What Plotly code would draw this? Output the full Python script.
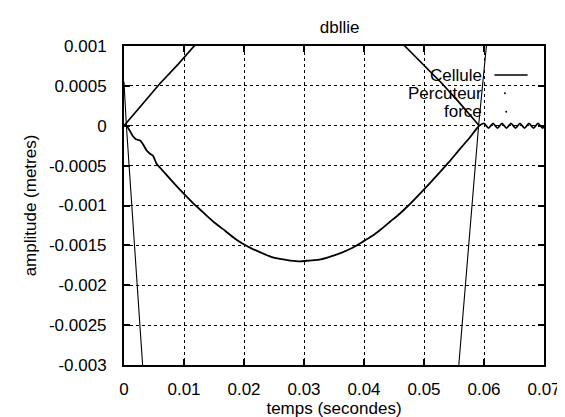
import plotly.graph_objects as go

# Cellule (solid line)
cellule_t = [0, 0.00037, 0.00092, 0.00146, 0.0020, 0.0027, 0.00324, 0.00378, 0.00433,
             0.00487, 0.0054, 0.00605, 0.0069, 0.0082, 0.0098, 0.0115, 0.0131, 0.0150,
             0.0169, 0.0184, 0.0198, 0.0213, 0.0228, 0.0244, 0.0260, 0.0277, 0.0293,
             0.0309, 0.0325, 0.0344, 0.0363, 0.0381, 0.0399, 0.0414, 0.0428, 0.0444,
             0.0460, 0.0474, 0.0487, 0.0506, 0.0522, 0.0541, 0.0560, 0.0576, 0.0592,
             0.0600, 0.06075, 0.0615, 0.06225, 0.0630, 0.06375, 0.0645, 0.06525,
             0.0660, 0.06675, 0.0675, 0.06825, 0.0690, 0.06975, 0.0700]
cellule_y = [0, 0, -0.000055, -0.000128, -0.000168, -0.000185, -0.000241, -0.000311, -0.000351,
             -0.00038, -0.000473, -0.00053, -0.0006, -0.00071, -0.00084, -0.00097, -0.00108, -0.00121,
             -0.00132, -0.00141, -0.00148, -0.00154, -0.00159, -0.00164, -0.00167, -0.00169, -0.0017,
             -0.00169, -0.00168, -0.00164, -0.00159, -0.00153, -0.00145, -0.00138, -0.0013, -0.0012,
             -0.0011, -0.001, -0.0009, -0.00075, -0.00062, -0.00046, -0.00029, -0.00015, 0.0,
             0.00003, -0.00003, 0.00003, -0.00003, 0.00003, -0.00003, 0.00003, -0.00003,
             0.00003, -0.00003, 0.00003, -0.00003, 0.00003, -0.00003, -0.00001]

# Percuteur
percuteur_t = [0, 0.003, 0.006, 0.009, 0.0117, 0.015, 0.02, 0.025, 0.03, 0.035, 0.04,
               0.0468, 0.05, 0.053, 0.056, 0.0592]
percuteur_y = [0, 0.00027, 0.00053, 0.00077, 0.001, 0.00122, 0.00148, 0.00164, 0.0017,
               0.00165, 0.00146, 0.001, 0.00076, 0.00053, 0.00028, 0]

# force
force_t = [0, 0.0004, 0.0031, 0.006, 0.012, 0.02, 0.03, 0.04, 0.048, 0.053, 0.0558,
           0.0591, 0.0604, 0.0625]
force_y = [0.00055, 0.0, -0.003, -0.0062, -0.0125, -0.018, -0.0205, -0.018, -0.0105,
           -0.0054, -0.003, 0.0, 0.001, 0.0028]

x_ticks = [0, 0.01, 0.02, 0.03, 0.04, 0.05, 0.06, 0.07]
x_labels = ["0", "0.01", "0.02", "0.03", "0.04", "0.05", "0.06", "0.07"]
y_ticks = [0.001, 0.0005, 0, -0.0005, -0.001, -0.0015, -0.002, -0.0025, -0.003]
y_labels = ["0.001", "0.0005", "0", "-0.0005", "-0.001", "-0.0015", "-0.002", "-0.0025", "-0.003"]

font = "Liberation Sans, Arial, Helvetica, sans-serif"

fig = go.Figure()
fig.add_trace(go.Scatter(x=force_t, y=force_y, mode="lines", name="force",
                         line=dict(color="black", width=1.1)))
fig.add_trace(go.Scatter(x=percuteur_t, y=percuteur_y, mode="lines", name="Percuteur",
                         line=dict(color="black", width=1.7)))
fig.add_trace(go.Scatter(x=cellule_t, y=cellule_y, mode="lines", name="Cellule",
                         line=dict(color="black", width=1.8, shape="spline", smoothing=0.6)))

# gnuplot-style key: text right-aligned, sample to its right
key = [("Cellule", 0.909), ("Percuteur", 0.852), ("force", 0.794)]
for label, ky in key:
    fig.add_annotation(x=0.856, y=ky, xref="paper", yref="paper", text=label,
                       showarrow=False, xanchor="right", yanchor="middle",
                       font=dict(family=font, size=17, color="black"))
fig.add_shape(type="line", xref="paper", yref="paper", x0=0.882, x1=0.961, y0=0.909, y1=0.909,
              line=dict(color="black", width=1.6))
for kx, ky in [(0.907, 0.852), (0.910, 0.794)]:
    fig.add_shape(type="circle", xref="paper", yref="paper", x0=kx - 0.0023, x1=kx + 0.0023,
                  y0=ky - 0.003, y1=ky + 0.003, fillcolor="black", line=dict(width=0))

axis_common = dict(showline=True, linecolor="black", linewidth=2, mirror="ticks",
                   ticks="inside", ticklen=6, tickwidth=1.5, tickcolor="black",
                   showgrid=True, gridcolor="black", gridwidth=1, griddash="dot",
                   zeroline=False, tickfont=dict(family=font, size=17, color="black"))

fig.update_xaxes(range=[0, 0.07], tickvals=x_ticks, ticktext=x_labels,
                 ticklabelstandoff=8,
                 title=dict(text="temps (secondes)", standoff=2,
                            font=dict(family=font, size=17, color="black")),
                 **axis_common)
fig.update_yaxes(range=[-0.003, 0.001], tickvals=y_ticks, ticktext=y_labels,
                 ticklabelstandoff=12,
                 title=dict(text="amplitude (metres)", standoff=8,
                            font=dict(family=font, size=17, color="black")),
                 **axis_common)

fig.update_layout(
    width=565, height=417,
    margin=dict(l=116, r=18, t=38, b=49),
    title=dict(text="dbllie", x=0.587, xanchor="center", y=0.955, yanchor="middle",
               font=dict(family=font, size=17, color="black")),
    plot_bgcolor="white", paper_bgcolor="white",
    showlegend=False,
)

fig.write_html("out.html")
